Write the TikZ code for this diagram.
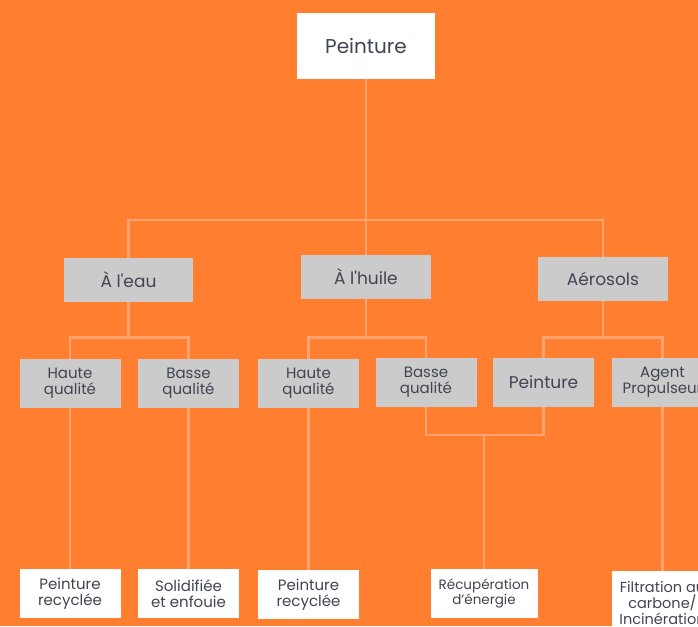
\documentclass[tikz,border=0pt]{standalone}
\usepackage{fontspec}
\setmainfont{Poppins}[Ligatures=TeXOff]
\usetikzlibrary{calc}
\definecolor{bgorange}{HTML}{FF7E30}
\definecolor{linkorange}{HTML}{FFA46E}
\definecolor{boxgrey}{HTML}{CBCBCB}
\definecolor{txtgrey}{HTML}{404552}

\begin{document}
\begin{tikzpicture}[x=1pt,y=-1pt,
  link/.style={draw=linkorange, line width=2.6pt},
  whitebox/.style={fill=white, text=txtgrey, align=center, inner sep=0pt},
  greybox/.style={fill=boxgrey, text=txtgrey, align=center, inner sep=0pt},
  small/.style={minimum width=101, minimum height=49}]
  % Background
  \path[use as bounding box] (0,0) rectangle (698,626);
  \fill[bgorange] (0,0) rectangle (698,626);
  \clip (0,0) rectangle (698,626);

  % Define font sizes
  \def\fa{\fontsize{20}{22}\selectfont}
  \def\fb{\fontsize{17}{18}\selectfont}
  \def\fc{\fontsize{15}{16}\selectfont}

  % Root
  \node[whitebox, minimum width=138, minimum height=66, font=\fa] (root) at (366,46) {Peinture};

  % Types of paint
  \node[greybox, minimum width=129, minimum height=44, font=\fb] (eau) at (128.5,280) {À l'eau};
  \node[greybox, minimum width=130, minimum height=44, font=\fb] (huile) at (366,277) {À l'huile};
  \node[greybox, minimum width=130, minimum height=44, font=\fb] (aero) at (603,279) {Aérosols};

  % Quality / components
  \node[greybox, small, font=\fc] (hqeau) at (70,383.5) {Haute\\qualité};
  \node[greybox, small, font=\fc] (bqeau) at (188.5,383.5) {Basse\\qualité};
  \node[greybox, small, font=\fc] (hqhuile) at (308.5,383.5) {Haute\\qualité};
  \node[greybox, small, font=\fc] (bqhuile) at (426,382.5) {Basse\\qualité};
  \node[greybox, small, font=\fb] (paero) at (543.5,382.5) {Peinture};
  \node[greybox, small, font=\fc] (agent) at (662.5,382.5) {Agent\\Propulseur};

  % Outcomes
  \node[whitebox, small, font=\fc] (receau) at (70,593.5) {Peinture\\recyclée};
  \node[whitebox, small, font=\fc] (solid) at (188.5,593.5) {Solidifiée\\et enfouie};
  \node[whitebox, small, font=\fc] (rechuile) at (308.5,594.5) {Peinture\\recyclée};
  \node[whitebox, minimum width=107, minimum height=49, font=\fontsize{13.5}{15}\selectfont] (energie) at (484,593.5) {Récupération\\d’énergie};
  \node[whitebox, minimum width=101, minimum height=64, font=\fontsize{14.5}{16}\selectfont] (filtre) at (662.5,603) {Filtration au\\carbone/\\Incinération};

  % Tree links
  \coordinate (split) at (366,220);
  \draw[link] (root) -- (split);
  \draw[link] (eau.north) |- (split) -| (aero.north);
  \draw[link] (split) -- (huile);

  \draw[link] (eau.south) -- ++(0,35) coordinate (spliteau);
  \draw[link] (hqeau.north) |- (spliteau) -| (bqeau.north);
  \draw[link] (huile.south) -- ++(0,38) coordinate (splithuile);
  \draw[link] (hqhuile.north) |- (splithuile) -| (bqhuile.north);
  \draw[link] (aero.south) -- ++(0,36) coordinate (splitaero);
  \draw[link] (paero.north) |- (splitaero) -| (agent.north);

  \coordinate (merge) at (484,435);
  \draw[link] (bqhuile.south) |- (merge) -| (paero.south);
  \draw[link] (merge) -- (energie);

  \draw[link] (hqeau) -- (receau);
  \draw[link] (bqeau) -- (solid);
  \draw[link] (hqhuile) -- (rechuile);
  \draw[link] (agent) -- (filtre);
\end{tikzpicture}
\end{document}
